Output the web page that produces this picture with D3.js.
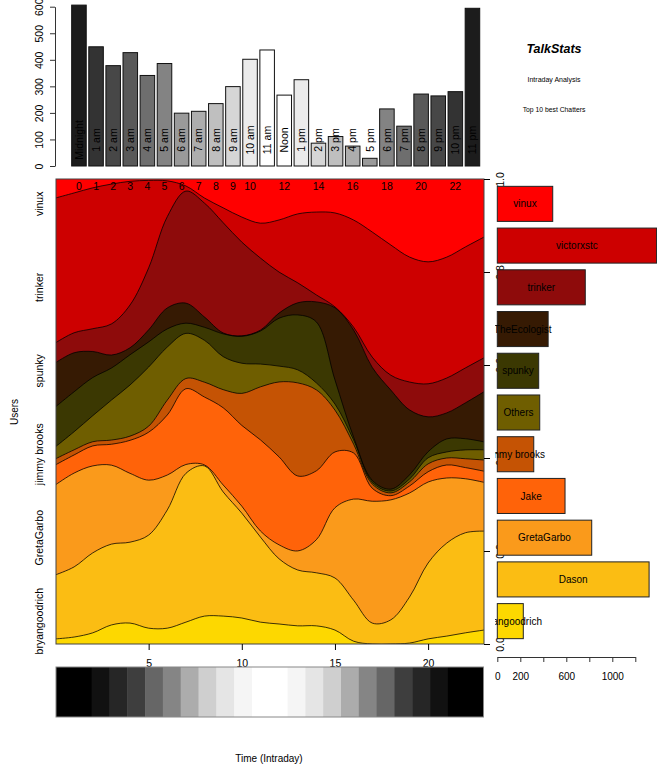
<!DOCTYPE html>
<html>
<head>
<meta charset="utf-8">
<script src="https://cdn.jsdelivr.net/npm/d3@7"></script>
<style>
    body { margin: 0; background: #fff; }
    text { font-family: "Liberation Sans", Arial, Helvetica, sans-serif; }
</style>
</head>
<body>
<div id="chart"></div>
<script>
// hourly posts (top bar chart)
const hourLabels = ["Midnight", "1 am", "2 am", "3 am", "4 am", "5 am", "6 am", "7 am", "8 am", "9 am", "10 am", "11 am",
    "Noon", "1 pm", "2 pm", "3 pm", "4 pm", "5 pm", "6 pm", "7 pm", "8 pm", "9 pm", "10 pm", "11 pm"];
const hourPosts = [606, 449, 378, 427, 341, 386, 199, 206, 235, 299, 402, 437, 267, 325, 86, 111, 75, 29, 215, 150, 271, 264, 280, 594];
const hourGreys = ["#1c1c1c", "#333333", "#474747", "#595959", "#6e6e6e", "#838383", "#9a9a9a", "#adadad", "#bfbfbf", "#d6d6d6", "#ebebeb", "#ffffff",
    "#ffffff", "#ebebeb", "#d6d6d6", "#bfbfbf", "#adadad", "#9a9a9a", "#838383", "#6e6e6e", "#595959", "#474747", "#333333", "#1c1c1c"];
const topTickLabels = [0, 1, 2, 3, 4, 5, 6, 7, 8, 9, 10, 12, 14, 16, 18, 20, 22];

// users, top 10 + others
const users = ["vinux", "victorxstc", "trinker", "TheEcologist", "spunky", "Others", "jimmy brooks", "Jake", "GretaGarbo", "Dason", "bryangoodrich"];
const userTotals = [482, 1385, 765, 442, 360, 369, 317, 589, 821, 1320, 226];
const userColors = ["#ff0000", "#cd0000", "#8e0b0b", "#361a03", "#3b3802", "#6f5e00", "#c55304", "#ff6309", "#fa9a1b", "#fbbd13", "#fdd800"];

// share of each hour's posts (%)
const shareVinux = [4.1, 3.0, 1.9, 1.1, 0.5, 0.3, 0.4, 1.5, 4.1, 6.2, 8.2, 9.5, 8.8, 7.5, 7.1, 7.3, 8.8, 11.4, 14.2, 16.8, 17.8, 16.8, 14.6, 12.5];
const shareVictorxstc = [31.2, 30.1, 30.3, 30.1, 26.6, 18.8, 7.7, 1.1, 1.1, 3.2, 5.4, 7.5, 11.2, 14.8, 17.8, 20.2, 23.0, 26.9, 28.0, 26.9, 26.2, 26.0, 26.0, 26.0];
const shareTrinker = [4.3, 4.3, 4.9, 6.7, 9.2, 13.3, 19.6, 24.1, 24.5, 23.7, 20.2, 15.5, 8.8, 4.3, 1.5, 0.2, 0.6, 2.2, 3.2, 6.0, 7.1, 7.5, 7.5, 7.3];
const shareTheEcologist = [9.5, 8.4, 5.6, 2.8, 1.5, 2.6, 4.5, 4.3, 2.2, 0.2, 0.1, 0.2, 1.1, 2.6, 4.3, 15.5, 23.0, 24.3, 21.3, 14.0, 7.5, 5.6, 7.7, 10.8];
const shareSpunky = [8.6, 8.6, 8.2, 6.9, 6.5, 5.4, 3.9, 2.2, 2.8, 4.9, 5.8, 7.1, 10.3, 11.8, 13.1, 5.2, 0.6, 0.4, 0.4, 0.9, 1.3, 2.8, 2.4, 1.7];
const shareOthers = [2.6, 3.9, 5.6, 8.6, 11.0, 12.7, 11.4, 9.7, 9.0, 7.1, 6.5, 4.9, 3.4, 2.8, 1.5, 1.3, 0.9, 0.4, 0.4, 0.6, 1.3, 1.3, 1.9, 2.2];
const shareJimmy = [1.3, 1.1, 0.9, 0.9, 0.9, 1.3, 3.2, 2.2, 3.2, 3.9, 6.9, 11.4, 16.1, 20.0, 17.4, 9.0, 1.9, 0.9, 0.6, 0.9, 1.7, 1.5, 1.9, 2.4];
const shareJake = [4.3, 3.9, 4.3, 4.5, 7.1, 10.3, 12.9, 16.3, 14.6, 16.6, 17.4, 19.6, 18.9, 16.1, 14.8, 12.0, 9.9, 2.8, 0.9, 1.5, 2.2, 2.8, 2.4, 2.4];
const shareGreta = [19.4, 20.2, 18.7, 17.0, 14.8, 11.8, 7.5, 1.9, 0.2, 1.5, 1.5, 1.3, 3.0, 4.1, 7.1, 15.1, 21.7, 26.2, 25.8, 22.4, 17.4, 14.0, 11.6, 10.5];
const shareDason = [13.8, 15.1, 17.2, 17.4, 17.4, 20.0, 25.4, 32.0, 32.3, 26.7, 22.6, 18.3, 14.0, 12.0, 11.4, 11.2, 8.8, 4.5, 5.2, 9.9, 16.3, 20.0, 21.5, 21.3];
const shareBryan = [1.1, 1.5, 2.4, 4.1, 4.5, 3.4, 3.4, 4.7, 6.0, 6.0, 5.6, 4.7, 4.3, 3.9, 3.9, 3.0, 0.6, 0.0, 0.0, 0.2, 1.1, 1.7, 2.4, 3.0];

// grey strip under the stream
const stripGreys = ["#000000", "#000000", "#111111", "#262626", "#3e3e3e", "#666666", "#858585", "#acacac", "#cfcfcf", "#e5e5e5", "#f5f5f5", "#ffffff",
    "#ffffff", "#f5f5f5", "#e5e5e5", "#cfcfcf", "#acacac", "#858585", "#666666", "#3e3e3e", "#262626", "#111111", "#000000", "#000000"];

const hours = d3.range(24);
const shareArrays = [shareVinux, shareVictorxstc, shareTrinker, shareTheEcologist, shareSpunky, shareOthers,
    shareJimmy, shareJake, shareGreta, shareDason, shareBryan];

let table = hours.map(h => {
    let row = {hour: h};
    users.forEach((u, i) => row[u] = shareArrays[i][h]);
    return row;
});

const svg = d3.select("#chart").append("svg")
    .attr("width", 657)
    .attr("height", 770);

// ---- top bar chart ----
const barX = d3.scaleBand().domain(hours).range([70.4, 481]).paddingInner(0.15).paddingOuter(0.075);
const barY = d3.scaleLinear().domain([0, 600]).range([166, 6.7]);

svg.append("g").selectAll("rect")
    .data(hours)
    .join("rect")
    .attr("x", d => barX(d))
    .attr("y", d => barY(hourPosts[d]))
    .attr("width", barX.bandwidth())
    .attr("height", d => barY(0) - barY(hourPosts[d]))
    .attr("fill", d => hourGreys[d])
    .attr("stroke", "#111")
    .attr("stroke-width", 1);

svg.append("g").selectAll("text")
    .data(hours)
    .join("text")
    .attr("transform", d => "translate(" + (barX(d) + barX.bandwidth() / 2) + ",140) rotate(-90)")
    .attr("text-anchor", "middle")
    .attr("dy", "0.36em")
    .style("font-size", "10.5px")
    .text(d => hourLabels[d]);

function rotateLabels(g, off) {
    g.selectAll("text")
        .attr("x", null)
        .attr("y", null)
        .attr("dy", null)
        .attr("transform", "translate(" + off + ",0) rotate(-90)")
        .attr("text-anchor", "middle")
        .style("font-size", "10.5px")
        .style("font-family", "Liberation Sans, Arial, sans-serif");
}

svg.append("g")
    .attr("transform", "translate(55,0)")
    .call(d3.axisLeft(barY).tickValues(d3.range(0, 700, 100)).tickSize(5).tickSizeOuter(0))
    .call(g => rotateLabels(g, -12))
    .call(g => g.selectAll("line,path").attr("stroke", "#333"));

// titles
svg.append("text").attr("x", 554).attr("y", 53).attr("text-anchor", "middle")
    .style("font-size", "12.5px").style("font-weight", "bold").style("font-style", "italic").text("TalkStats");
svg.append("text").attr("x", 554).attr("y", 82).attr("text-anchor", "middle")
    .style("font-size", "7px").text("Intraday Analysis");
svg.append("text").attr("x", 554).attr("y", 112).attr("text-anchor", "middle")
    .style("font-size", "6.8px").text("Top 10 best Chatters");

// ---- stream plot ----
const x = d3.scaleLinear().domain([0, 23]).range([55.5, 484]);
const y = d3.scaleLinear().domain([0, 1]).range([644, 179]);

const series = d3.stack()
    .keys(users.slice().reverse())
    .offset(d3.stackOffsetExpand)(table);

svg.append("clipPath").attr("id", "plotClip")
    .append("rect").attr("x", 56).attr("y", 179).attr("width", 428).attr("height", 465);

const streamG = svg.append("g").attr("clip-path", "url(#plotClip)");
const curve = d3.curveCatmullRom.alpha(0.5);

const area = d3.area()
    .x(d => x(d.data.hour))
    .y0(y(0))
    .y1(d => y(d[1]))
    .curve(curve);

// top layers first, lower layers painted over them
const ordered = series.slice().reverse();
streamG.selectAll(".layer")
    .data(ordered)
    .join("path")
    .attr("class", "layer")
    .attr("d", area)
    .attr("fill", d => userColors[users.indexOf(d.key)]);

const line = d3.line()
    .x(d => x(d.data.hour))
    .y(d => y(d[1]))
    .curve(curve);

streamG.selectAll(".edge")
    .data(ordered.slice(1))
    .join("path")
    .attr("class", "edge")
    .attr("d", line)
    .attr("fill", "none")
    .attr("stroke", "#000")
    .attr("stroke-opacity", 0.85)
    .attr("stroke-width", 0.9);

svg.append("rect")
    .attr("x", 56).attr("y", 179).attr("width", 428).attr("height", 465)
    .attr("fill", "none").attr("stroke", "#444").attr("stroke-width", 1);

// hour numbers along the top of the plot
svg.append("g").selectAll("text")
    .data(topTickLabels)
    .join("text")
    .attr("x", d => barX(d) + barX.bandwidth() / 2)
    .attr("y", 190)
    .attr("text-anchor", "middle")
    .style("font-size", "10.5px")
    .text(d => d);

// bottom axis
svg.append("g")
    .attr("transform", "translate(0,644)")
    .call(d3.axisBottom(x).tickValues([5, 10, 15, 20]).tickSize(6).tickSizeOuter(0))
    .call(g => g.select(".domain").remove())
    .call(g => g.selectAll("text").attr("y", 16).style("font-size", "10.5px").style("font-family", "Liberation Sans, Arial, sans-serif"));

// right axis
svg.append("g")
    .attr("transform", "translate(484,0)")
    .call(d3.axisRight(y).tickValues([0, 0.2, 0.4, 0.6, 0.8, 1]).tickFormat(d3.format(".1f")).tickSize(6).tickSizeOuter(0))
    .call(g => g.select(".domain").remove())
    .call(g => rotateLabels(g, 20));

// user labels on the left
const legY = d3.scaleBand().domain(users).range([183, 642]).paddingInner(0.16).paddingOuter(0.08);

svg.append("g").selectAll("text")
    .data(users.filter((u, i) => i % 2 === 0))
    .join("text")
    .attr("transform", d => "translate(43," + (legY(d) + legY.bandwidth() / 2) + ") rotate(-90)")
    .attr("text-anchor", "middle")
    .style("font-size", "10.5px")
    .text(d => d);

svg.append("text")
    .attr("transform", "translate(18,412) rotate(-90)")
    .attr("text-anchor", "middle")
    .style("font-size", "10px")
    .text("Users");

// ---- legend bars ----
const legX = d3.scaleLinear().domain([0, 1200]).range([497.3, 635.3]);

svg.append("g").selectAll("rect")
    .data(users)
    .join("rect")
    .attr("x", legX(0))
    .attr("y", d => legY(d))
    .attr("width", (d, i) => legX(userTotals[i]) - legX(0))
    .attr("height", legY.bandwidth())
    .attr("fill", (d, i) => userColors[i])
    .attr("stroke", "#222")
    .attr("stroke-width", 1);

svg.append("clipPath").attr("id", "legClip")
    .append("rect").attr("x", 495).attr("y", 170).attr("width", 170).attr("height", 500);

svg.append("g").attr("clip-path", "url(#legClip)")
    .selectAll("text")
    .data(users)
    .join("text")
    .attr("x", (d, i) => (legX(0) + legX(userTotals[i])) / 2)
    .attr("y", d => legY(d) + legY.bandwidth() / 2)
    .attr("dy", "0.36em")
    .attr("text-anchor", "middle")
    .style("font-size", "10px")
    .text(d => d);

svg.append("g")
    .attr("transform", "translate(0,657)")
    .call(d3.axisBottom(legX).tickValues(d3.range(0, 1400, 200)).tickSize(5).tickSizeOuter(0)
        .tickFormat(d => [0, 200, 600, 1000].includes(d) ? d : ""))
    .call(g => g.selectAll("text").attr("y", 16).style("font-size", "10px").style("font-family", "Liberation Sans, Arial, sans-serif"))
    .call(g => g.selectAll("line,path").attr("stroke", "#333"));

// ---- grey strip ----
const stripX = d3.scaleBand().domain(hours).range([56, 483.5]);

svg.append("g").selectAll("rect")
    .data(hours)
    .join("rect")
    .attr("x", d => stripX(d))
    .attr("y", 667)
    .attr("width", stripX.bandwidth() + 0.5)
    .attr("height", 50)
    .attr("fill", d => stripGreys[d]);

svg.append("rect")
    .attr("x", 56).attr("y", 667).attr("width", 427.5).attr("height", 50)
    .attr("fill", "none").attr("stroke", "#888").attr("stroke-width", 1);

svg.append("text")
    .attr("x", 269).attr("y", 762)
    .attr("text-anchor", "middle")
    .style("font-size", "10px")
    .text("Time (Intraday)");
</script>
</body>
</html>
